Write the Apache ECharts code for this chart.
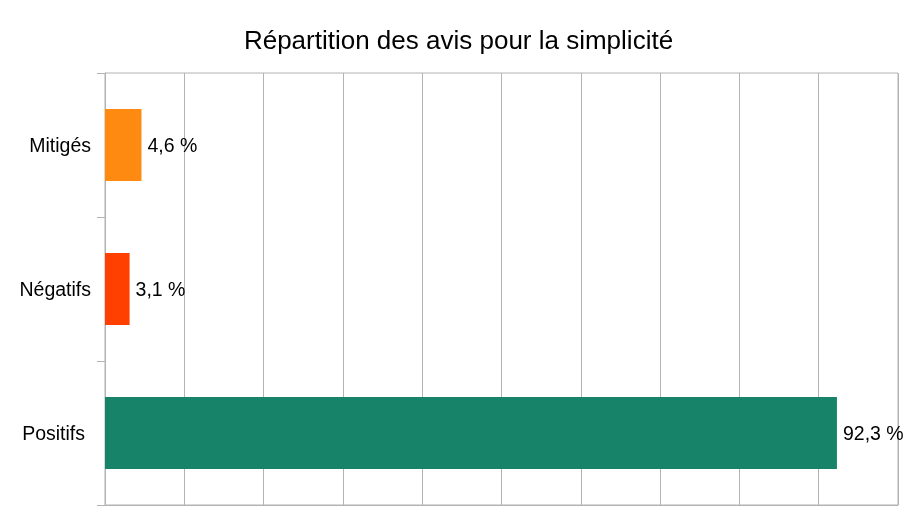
<!DOCTYPE html>
<html>
<head>
<meta charset="utf-8">
<script src="https://cdn.jsdelivr.net/npm/echarts@6/dist/echarts.min.js"></script>
<style>
html,body{margin:0;padding:0;background:#fff;}
#chart{width:917px;height:516px;}
</style>
</head>
<body>
<div id="chart"></div>
<script>
const titleText = 'Répartition des avis pour la simplicité';
const categories = ['Mitigés', 'Négatifs', 'Positifs'];
const values = [4.6, 3.1, 92.3];
const barColors = ['#ff8a12', '#ff4000', '#178469'];
const xTicks = [0, 10, 20, 30, 40, 50, 60, 70, 80, 90, 100];

const chart = echarts.init(document.getElementById('chart'), null, {renderer: 'canvas'});
const gridColor = '#b3b3b3';
const fontBase = {fontFamily: 'Liberation Sans', fontSize: 19.5, color: '#000'};
chart.setOption({
  backgroundColor: '#fff',
  animation: false,
  title: {
    text: titleText,
    left: 'center',
    top: 24,
    textStyle: {fontFamily: 'Liberation Sans', fontSize: 26, fontWeight: 'normal', color: '#000'}
  },
  grid: {
    left: 105, right: 19, top: 73, bottom: 11,
    show: true, borderColor: gridColor, borderWidth: 1, backgroundColor: 'transparent'
  },
  xAxis: {
    type: 'value',
    min: xTicks[0],
    max: xTicks[xTicks.length - 1],
    interval: xTicks[1] - xTicks[0],
    axisLabel: {show: false},
    axisTick: {show: false},
    axisLine: {show: true, lineStyle: {color: gridColor, width: 1}},
    splitLine: {show: true, lineStyle: {color: gridColor, width: 1}}
  },
  yAxis: {
    type: 'category',
    data: categories,
    inverse: true,
    axisLine: {show: true, lineStyle: {color: gridColor, width: 1}},
    axisTick: {show: true, length: 8, lineStyle: {color: gridColor, width: 1}},
    axisLabel: Object.assign({
      margin: 14,
      formatter: v => (v === 'Positifs' ? '{p|' + v + '}' : '{n|' + v + '}'),
      rich: {
        n: Object.assign({padding: [4, 0, 0, 0]}, fontBase),
        p: Object.assign({padding: [4, 6, 0, 0]}, fontBase)
      }
    }, fontBase),
    splitLine: {show: false}
  },
  series: [{
    type: 'bar',
    barWidth: '50%',
    data: values.map((v, i) => ({value: v, itemStyle: {color: barColors[i]}})),
    label: Object.assign({
      show: true,
      position: 'right',
      distance: 6,
      formatter: p => '{v|' + String(p.value).replace('.', ',') + ' %}',
      rich: {
        v: Object.assign({padding: [4, 0, 0, 0]}, fontBase)
      }
    }, fontBase)
  }]
});
</script>
</body>
</html>
